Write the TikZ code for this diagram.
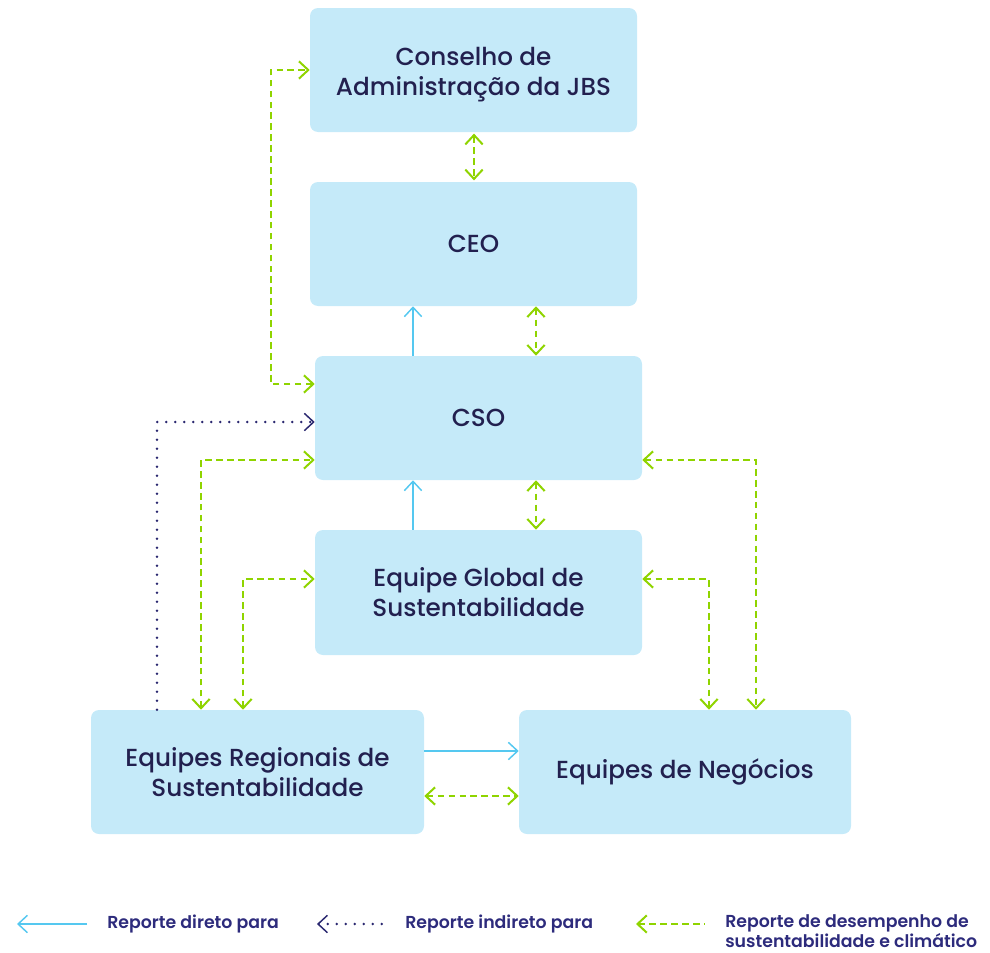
\documentclass[tikz,border=0pt]{standalone}
\usepackage{fontspec}
\setmainfont{Poppins}
\newfontfamily\boxfont{Poppins Medium}
\newfontfamily\legfont{Poppins SemiBold}
\usetikzlibrary{arrows.meta}
\definecolor{boxfill}{HTML}{C5EAF9}
\definecolor{navy}{HTML}{22204F}
\definecolor{legnavy}{HTML}{2D2B7C}
\definecolor{dnavy}{HTML}{2A2870}
\definecolor{cyanl}{HTML}{55C8F0}
\definecolor{lime}{HTML}{8FD400}
\tikzset{
  box/.style={fill=boxfill, rounded corners=6pt, inner sep=0pt, align=center,
    text=navy, font=\boxfont\fontsize{18.5}{22.5}\selectfont},
  direct/.style={draw=cyanl, line width=1.1pt, -{Straight Barb[length=7pt,width=13pt]}},
  perf/.style={draw=lime, line width=1.5pt, dash pattern=on 5pt off 3.2pt,
    {Straight Barb[length=7pt,width=13pt]}-{Straight Barb[length=7pt,width=13pt]}},
  perfl/.style={draw=lime, line width=1.5pt, dash pattern=on 5pt off 3.2pt,
    {Straight Barb[length=7pt,width=13pt]}-},
  indirect/.style={draw=dnavy, line width=2.1pt, line cap=round, dash pattern=on 0pt off 6.75pt,
    -{Straight Barb[length=7pt,width=13pt,line width=1.1pt,line cap=butt]}},
  indirectl/.style={draw=dnavy, line width=2.1pt, line cap=round, dash pattern=on 0pt off 6.75pt,
    {Straight Barb[length=7pt,width=13pt,line width=1.1pt,line cap=butt]}-},
  legtext/.style={anchor=west, text=legnavy, inner sep=0pt, align=left,
    font=\legfont\fontsize{13}{15}\selectfont},
}
\begin{document}
\begin{tikzpicture}[x=0.75pt,y=-0.75pt]
\useasboundingbox (0,0) rectangle (990,953);
% boxes
\node[box, minimum width=245.25pt, minimum height=93pt] (cons) at (473.5,70) {\rule{0pt}{21pt}Conselho de\\Administração da JBS};
\node[box, minimum width=245.25pt, minimum height=93pt] (ceo) at (473.5,244) {CEO};
\node[box, minimum width=245.25pt, minimum height=93pt] (cso) at (478.5,418) {CSO};
\node[box, minimum width=245.25pt, minimum height=93.75pt] (glob) at (478.5,592.5) {Equipe Global de\\Sustentabilidade};
\node[box, minimum width=249.75pt, minimum height=93pt] (reg) at (257.5,772) {Equipes Regionais de\\Sustentabilidade};
\node[box, minimum width=249pt, minimum height=93pt] (neg) at (685,772) {Equipes de Negócios};
% helper coordinates
\coordinate (x474) at (474,0);
\coordinate (x413) at (413,0);
\coordinate (x536) at (536,0);
\coordinate (x271) at (271,0);
\coordinate (x157) at (157,0);
\coordinate (x201) at (201,0);
\coordinate (x243) at (243,0);
\coordinate (x756) at (756,0);
\coordinate (x709) at (709,0);
\coordinate (y70) at (0,70);
\coordinate (y384) at (0,384);
\coordinate (y422) at (0,422);
\coordinate (y460) at (0,460);
\coordinate (y579) at (0,579);
\coordinate (y751) at (0,751);
\coordinate (y796) at (0,796);
% vertical links
\draw[perf] ([yshift=-1pt]cons.south -| x474) -- ([yshift=1pt]ceo.north -| x474);
\draw[direct] (cso.north -| x413) -- (ceo.south -| x413);
\draw[perf] (ceo.south -| x536) -- (cso.north -| x536);
\draw[direct] (glob.north -| x413) -- (cso.south -| x413);
\draw[perf] (cso.south -| x536) -- (glob.north -| x536);
% left links
\draw[perf] (cso.west |- y384) -- (x271 |- y384) -- (x271 |- y70) -- (cons.west |- y70);
\draw[indirect] (reg.north -| x157) -- (x157 |- y422) -- (cso.west |- y422);
\draw[perf] (reg.north -| x201) -- (x201 |- y460) -- (cso.west |- y460);
\draw[perf] (reg.north -| x243) -- (x243 |- y579) -- (glob.west |- y579);
% right links
\draw[perf] (cso.east |- y460) -- (x756 |- y460) -- (neg.north -| x756);
\draw[perf] (glob.east |- y579) -- (x709 |- y579) -- (neg.north -| x709);
% bottom links
\draw[direct] (reg.east |- y751) -- (neg.west |- y751);
\draw[perf] (reg.east |- y796) -- (neg.west |- y796);
% legend
\coordinate (l1a) at (17,924);
\coordinate (l1b) at (87,924);
\coordinate (l2a) at (317,924);
\coordinate (l2b) at (385,924);
\coordinate (l3a) at (636,924);
\coordinate (l3b) at (705,924);
\draw[direct] (l1b) -- (l1a);
\draw[indirectl] (l2a) -- (l2b);
\draw[perfl] (l3a) -- (l3b);
\node[legtext] (t1) at (107,924) {Reporte direto para};
\node[legtext] (t2) at (405,924) {Reporte indireto para};
\node[legtext, anchor=north west] (t3) at (725,914) {Reporte de desempenho de\\sustentabilidade e climático};
\end{tikzpicture}
\end{document}
